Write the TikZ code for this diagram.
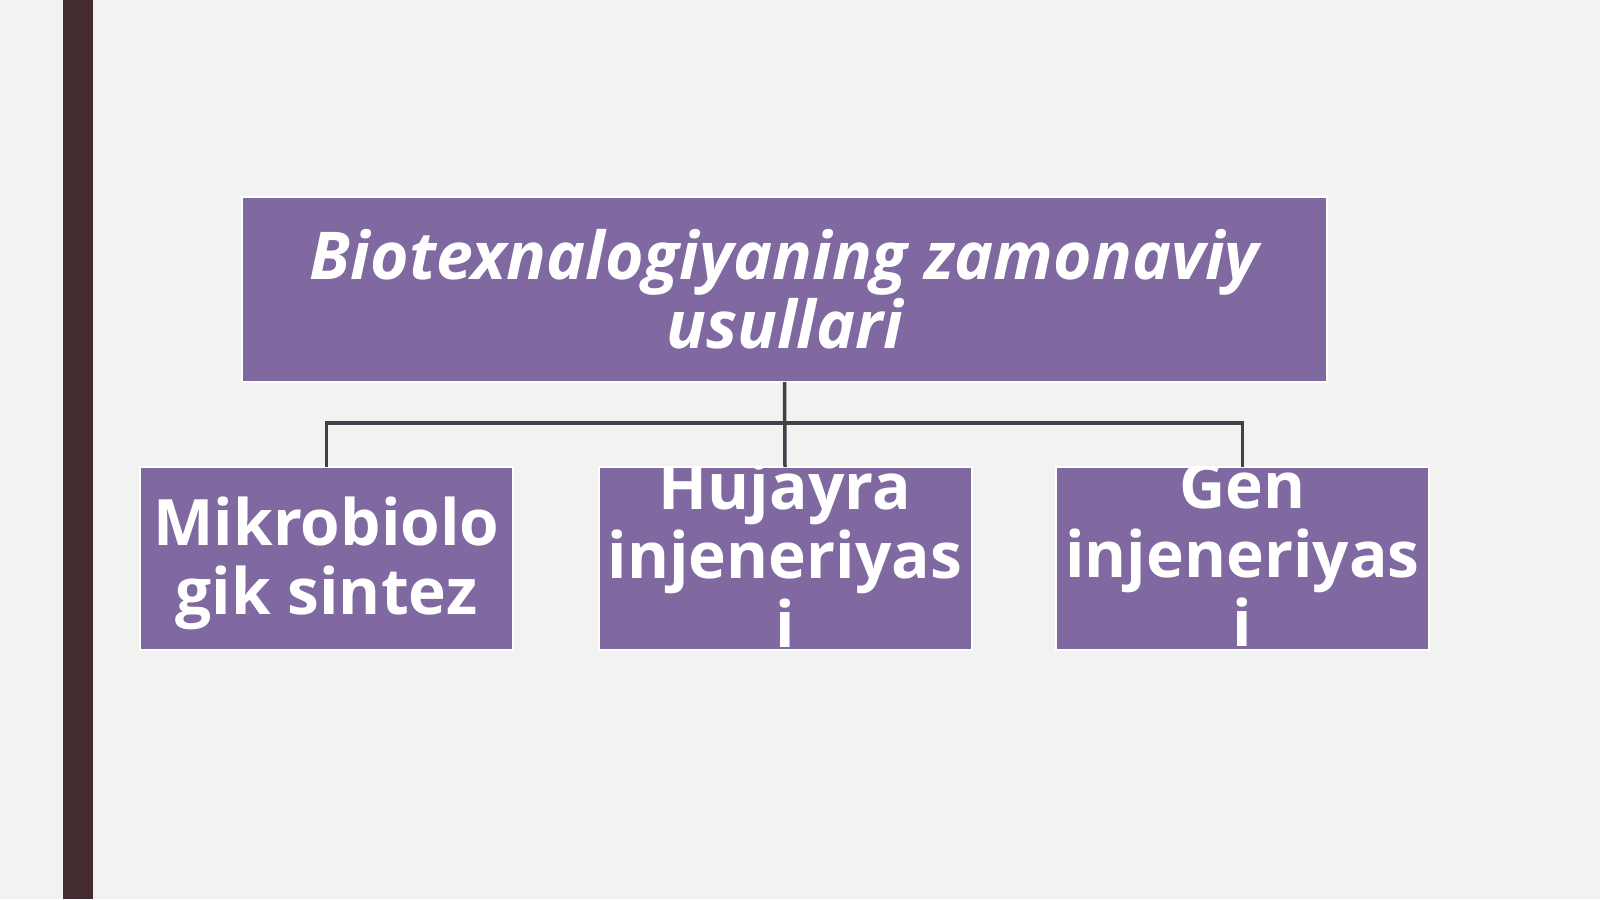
\documentclass[tikz,border=0pt]{standalone}
\usepackage{fontspec}
\setmainfont{Open Sans}
\definecolor{slidebg}{RGB}{242,243,240}
\definecolor{barbrown}{RGB}{67,43,47}
\definecolor{boxpurple}{RGB}{128,104,160}
\definecolor{linkgray}{RGB}{64,64,72}
\tikzset{
  methodbox/.style={fill=boxpurple, draw=white, line width=2pt, inner sep=0pt, outer sep=0pt},
  boxtext/.style={text=white, align=center, inner sep=0pt},
  link/.style={draw=linkgray, line width=3.5pt}
}
\begin{document}
\begin{tikzpicture}[x=1pt,y=-1pt]
        \fill[slidebg] (0,0) rectangle (1600,899);
        \fill[barbrown] (63,0) rectangle (93,899);
        % top box
        \node[methodbox, minimum width=1085pt, minimum height=185pt] (top) at (784.5,289.5) {};
        \node[boxtext, font=\fontsize{66}{69}\selectfont\bfseries\itshape] (title) at (top.center)
            {Biotexnalogiyaning zamonaviy\\usullari};
        % child boxes, text clipped to the box
        \node[methodbox, minimum width=373pt, minimum height=183pt,
            path picture={\node[boxtext, font=\fontsize{64}{69}\selectfont\bfseries]
                at ([yshift=-5pt]path picture bounding box.center) {Mikrobiolo\\gik sintez};}] (mikro) at (326.5,558.5) {};
        \node[methodbox, minimum width=373pt, minimum height=183pt,
            path picture={\node[boxtext, font=\fontsize{64}{69}\selectfont\bfseries]
                at ([yshift=4pt]path picture bounding box.center) {Hujayra\\injeneriyas\\i};}] (hujayra) at (785,558.5) {};
        \node[methodbox, minimum width=373pt, minimum height=183pt,
            path picture={\node[boxtext, font=\fontsize{64}{69}\selectfont\bfseries]
                at ([yshift=4pt]path picture bounding box.center) {Gen\\injeneriyas\\i};}] (gen) at (1242.5,558.5) {};
        % connectors
        \coordinate (fork) at (784.5,423);
        \draw[link] (top.south) -- (hujayra.north);
        \draw[link] (mikro.north) |- (fork) -| (gen.north);
    \end{tikzpicture}
\end{document}
